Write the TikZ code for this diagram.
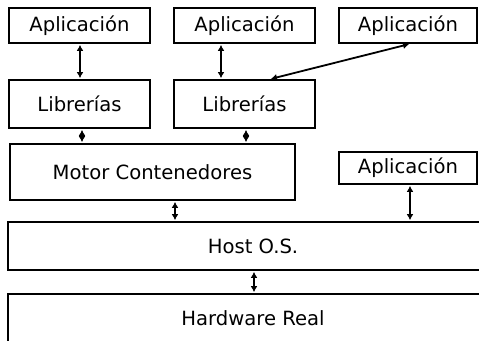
\documentclass[tikz,border=0pt]{standalone}
\usepackage{fontspec}
\setmainfont{DejaVu Sans}
\usepackage{tikz}
\usetikzlibrary{arrows.meta}

\begin{document}
\begin{tikzpicture}[x=1pt,y=-1pt,
    caja/.style={draw=black,line width=1.8pt,inner sep=0pt,font=\fontsize{19.6}{23}\selectfont},
    flecha/.style={{Latex[length=6pt,width=7pt]}-{Latex[length=6pt,width=7pt]},line width=1.8pt,shorten <=1pt,shorten >=1pt}]

      \clip (0,0) rectangle (479,340);
      \useasboundingbox (0,0) rectangle (479,340);
      \fill[white] (0,0) rectangle (479,340);

      \node[caja,minimum width=141pt,minimum height=35pt] (a) at (79.5,25.5){Aplicación};
      \node[caja,minimum width=141pt,minimum height=35pt] (b) at (244.5,25.5){Aplicación};
      \node[caja,minimum width=138pt,minimum height=35pt] (c) at (408,25.5){Aplicación};

      \node[caja,minimum width=141pt,minimum height=48pt] (l) at (79.5,104){Librerías};
      \node[caja,minimum width=141pt,minimum height=48pt] (m) at (244.5,104){Librerías};

      \node[caja,minimum width=285pt,minimum height=56pt] (e) at (152.5,172){Motor Contenedores};
      \node[caja,minimum width=138pt,minimum height=32pt] (d) at (408,168){Aplicación};

      \node[caja,minimum width=490pt,minimum height=48pt] (h) at (253,246){Host O.S.};
      \node[caja,minimum width=490pt,minimum height=48pt] (r) at (253,318){Hardware Real};

      \draw[flecha] (a.south -| 80,0) -- (l.north -| 80,0);
      \draw[flecha] (b.south -| 221,0) -- (m.north -| 221,0);
      \draw[flecha] (c.south -| 410,0) -- (m.north -| 270,0);
      \draw[flecha] (l.south -| 82,0) -- (e.north -| 82,0);
      \draw[flecha] (m.south -| 246,0) -- (e.north -| 246,0);
      \draw[flecha] (e.south -| 175,0) -- (h.north -| 175,0);
      \draw[flecha] (d.south -| 410,0) -- (h.north -| 410,0);
      \draw[flecha] (h.south -| 254,0) -- (r.north -| 254,0);
    \end{tikzpicture}
\end{document}
